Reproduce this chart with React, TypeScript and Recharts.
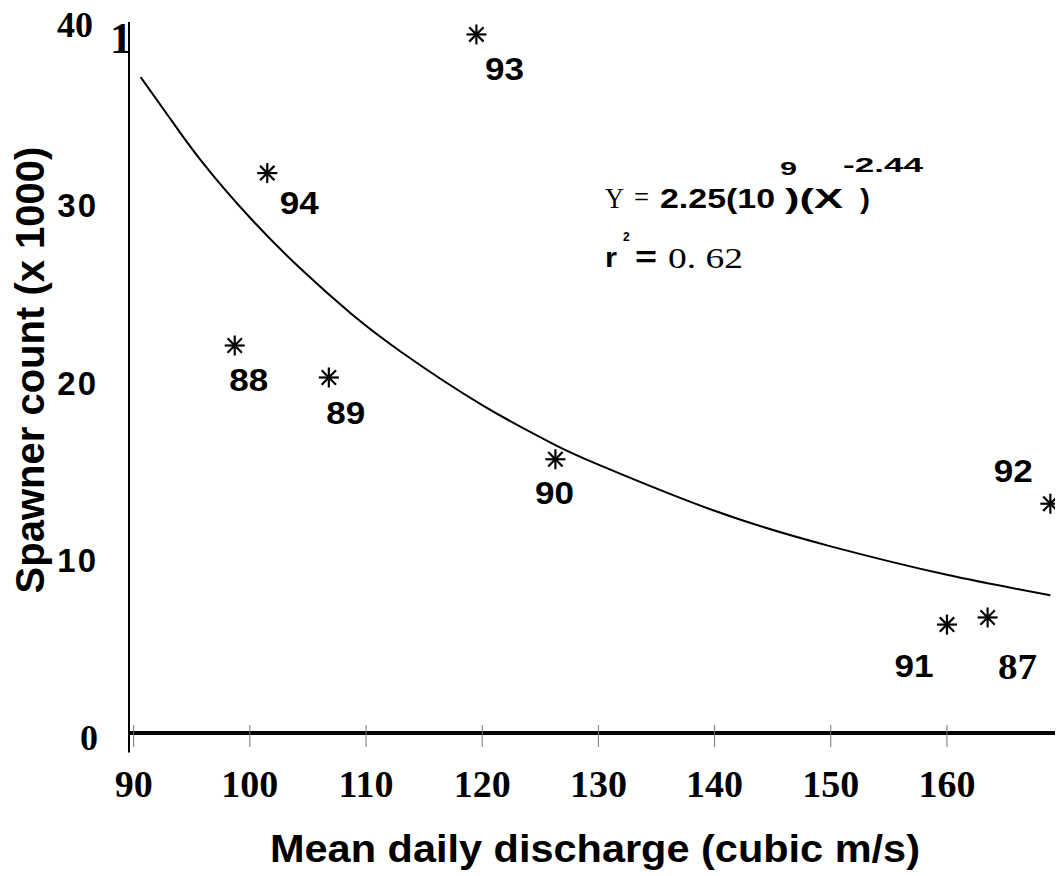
import {
  ComposedChart,
  Line,
  Scatter,
  XAxis,
  YAxis,
  ReferenceLine,
} from 'recharts';

// observed spawner counts by year
const years = ['88', '94', '89', '93', '90', '91', '87', '92'];
const discharge = [98.7, 101.5, 106.8, 119.5, 126.3, 160.0, 163.5, 168.9];
const spawners = [21.8, 31.5, 20.0, 39.3, 15.4, 6.1, 6.5, 12.9];

// fitted curve
const fitX = [90.6, 93, 95.8, 100, 104.4, 108.7, 113, 120, 126.3, 130, 140, 150, 160, 168.9];
const fitY = [36.9, 34.7, 32.2, 29.0, 26.1, 23.6, 21.45, 18.45, 16.2, 15.1, 12.5, 10.5, 8.9, 7.75];

const xTicks = [90, 100, 110, 120, 130, 140, 150, 160];
const yTicks = [0, 10, 20, 30, 40];

const SANS = '"Liberation Sans", Arial, sans-serif';
const SERIF = '"Liberation Serif", "Times New Roman", serif';

// where each year label sits relative to its marker
const labelOffset: Record<string, [number, number]> = {
  '93': [28, 34],
  '94': [32, 29],
  '88': [14, 33],
  '89': [17, 34],
  '90': [-1, 33],
  '92': [-37, -34],
  '91': [-33, 40],
  '87': [30, 50],
};

const points = years.map((year, i) => ({ year, x: discharge[i], y: spawners[i] }));
const curve = fitX.map((x, i) => ({ x, y: fitY[i] }));

function Star(props: any) {
  const { cx, cy, payload } = props;
  if (cx == null || cy == null) return null;
  const r = 10;
  const d = r * 0.72;
  const [dx, dy] = labelOffset[payload.year] || [0, 30];
  const serif = payload.year === '87';
  return (
    <g>
      <g stroke="#000" strokeWidth={2.2}>
        <line x1={cx - r} y1={cy} x2={cx + r} y2={cy} />
        <line x1={cx} y1={cy - r} x2={cx} y2={cy + r} />
        <line x1={cx - d} y1={cy - d} x2={cx + d} y2={cy + d} />
        <line x1={cx - d} y1={cy + d} x2={cx + d} y2={cy - d} />
      </g>
      <text
        x={cx + dx}
        y={cy + dy + 12}
        textAnchor="middle"
        fontFamily={serif ? SERIF : SANS}
        fontWeight="bold"
        fontSize={serif ? 36 : 31}
        textLength={39}
        lengthAdjust="spacingAndGlyphs"
        fill="#000"
      >
        {payload.year}
      </text>
    </g>
  );
}

function XTick(props: any) {
  const { x, y, payload } = props;
  return (
    <g>
      <line x1={x} y1={y - 8} x2={x} y2={y + 14} stroke="#777" strokeWidth={1} />
      <text
        x={x}
        y={y + 64}
        textAnchor="middle"
        fontFamily={SERIF}
        fontWeight="bold"
        fontSize={38}
        fill="#000"
      >
        {payload.value}
      </text>
    </g>
  );
}

function YTick(props: any) {
  const { x, y, payload } = props;
  const v = payload.value;
  const serif = v === 0 || v === 40;
  return (
    <text
      x={x - (v === 40 ? 36 : 31)}
      y={y + (v === 40 ? 15 : 17)}
      textAnchor="end"
      fontFamily={serif ? SERIF : SANS}
      fontWeight="bold"
      fontSize={serif ? 36 : 33}
      letterSpacing={serif ? 0 : 2}
      fill="#000"
    >
      {v}
    </text>
  );
}

export default function App() {
  return (
    <div
      style={{
        position: 'absolute',
        left: 0,
        top: 0,
        width: 1060,
        height: 876,
        background: '#fff',
        overflow: 'hidden',
      }}
    >
      <ComposedChart
        width={1060}
        height={876}
        margin={{ top: 22, right: 5, left: 0, bottom: 0 }}
      >
        <XAxis
          dataKey="x"
          type="number"
          domain={[89.6, 169.3]}
          ticks={xTicks}
          height={143}
          tickSize={0}
          tickMargin={0}
          tick={<XTick />}
          axisLine={{ stroke: '#000', strokeWidth: 4 }}
          allowDataOverflow
        />
        <YAxis
          type="number"
          domain={[0, 40]}
          ticks={yTicks}
          width={129}
          tickSize={0}
          tickMargin={0}
          tick={<YTick />}
          axisLine={{ stroke: '#000', strokeWidth: 2 }}
          allowDataOverflow
        />
        <ReferenceLine
          segment={[
            { x: 89.6, y: -1.1 },
            { x: 89.6, y: 0 },
          ]}
          stroke="#000"
          strokeWidth={2}
          ifOverflow="visible"
        />
        <Line
          data={curve}
          dataKey="y"
          type="natural"
          stroke="#000"
          strokeWidth={2}
          dot={false}
          activeDot={false}
          isAnimationActive={false}
        />
        <Scatter
          data={points}
          dataKey="y"
          shape={<Star />}
          isAnimationActive={false}
        />
      </ComposedChart>

      <svg
        width={1060}
        height={876}
        style={{ position: 'absolute', left: 0, top: 0, pointerEvents: 'none' }}
      >
        <text x={110} y={53} fontFamily={SERIF} fontWeight="bold" fontSize={44}>
          1
        </text>

        {/* fitted equation */}
        <text x={605} y={208} fontFamily={SERIF} fontSize={29} textLength={19} lengthAdjust="spacingAndGlyphs">
          Y
        </text>
        <text x={634} y={207} fontFamily={SERIF} fontSize={30} textLength={15} lengthAdjust="spacingAndGlyphs">
          =
        </text>
        <text x={660} y={208} fontFamily={SANS} fontWeight="bold" fontSize={28} textLength={115} lengthAdjust="spacingAndGlyphs">
          2.25(10
        </text>
        <text x={780} y={175} fontFamily={SANS} fontWeight="bold" fontSize={18} textLength={17} lengthAdjust="spacingAndGlyphs">
          9
        </text>
        <text x={785} y={208} fontFamily={SANS} fontWeight="bold" fontSize={28} textLength={58} lengthAdjust="spacingAndGlyphs">
          )(X
        </text>
        <text x={860} y={208} fontFamily={SANS} fontWeight="bold" fontSize={28} textLength={10} lengthAdjust="spacingAndGlyphs">
          )
        </text>
        <text x={843} y={172} fontFamily={SANS} fontWeight="bold" fontSize={20} textLength={80} lengthAdjust="spacingAndGlyphs">
          -2.44
        </text>
        <text x={605} y={267} fontFamily={SANS} fontWeight="bold" fontSize={28} textLength={12} lengthAdjust="spacingAndGlyphs">
          r
        </text>
        <text x={623} y={241} fontFamily={SANS} fontWeight="bold" fontSize={12}>
          2
        </text>
        <text x={635} y={267} fontFamily={SANS} fontWeight="bold" fontSize={30} textLength={22} lengthAdjust="spacingAndGlyphs">
          =
        </text>
        <text x={668} y={268} fontFamily={SERIF} fontSize={30} textLength={75} lengthAdjust="spacingAndGlyphs">
          0. 62
        </text>

        {/* axis titles */}
        <text
          x={595}
          y={862}
          textAnchor="middle"
          fontFamily={SANS}
          fontWeight="bold"
          fontSize={39}
          textLength={650}
          lengthAdjust="spacingAndGlyphs"
        >
          Mean daily discharge (cubic m/s)
        </text>
        <text
          x={44}
          y={370}
          transform="rotate(-90 44 370)"
          textAnchor="middle"
          fontFamily={SANS}
          fontWeight="bold"
          fontSize={40}
        >
          Spawner count (x 1000)
        </text>
      </svg>
    </div>
  );
}
